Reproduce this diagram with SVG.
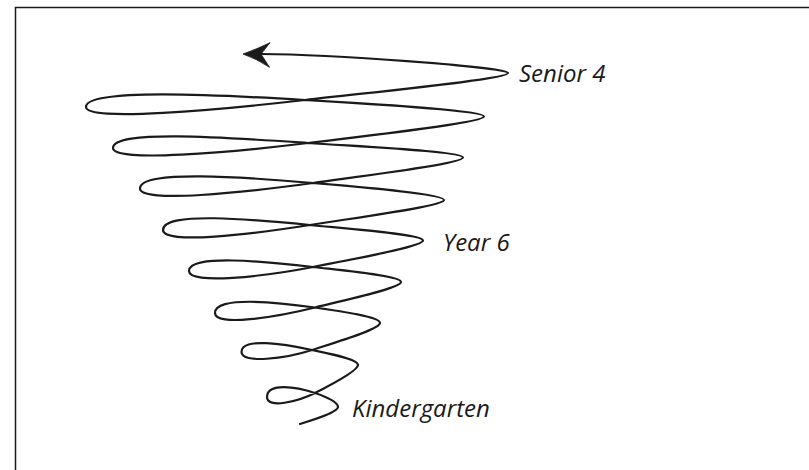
<svg xmlns="http://www.w3.org/2000/svg" width="809" height="470" viewBox="0 0 809 470">
  <style>
    .frame { fill: none; stroke: #1a1a1a; stroke-width: 1.5; }
    .coil { fill: none; stroke: #1a1a1a; stroke-width: 2.2; stroke-linecap: round; stroke-linejoin: round; }
    .head { fill: #1a1a1a; stroke: #1a1a1a; stroke-width: 0.8; stroke-linejoin: round; }
    .lbl { font-family: "Open Sans", "Liberation Sans", sans-serif; font-style: italic; font-size: 24px; fill: #1a1a1a; }
  </style>
  <rect width="809" height="470" fill="#ffffff"/>
  <rect id="frame" class="frame" x="15.5" y="7.5" width="820" height="480"/>
  <g id="spiral">
    <path class="coil" d="M300,424 C316,419 338,412 338,407
      C338,402 325.2,396.5 315,393 C296.7,386.8 267,382 267,397 C267,409 297.8,401.7 315,393 C333.3,383.7 358,370 358,365
      C358,359 331,354 312,350 C284.4,344.1 241.5,337 241.5,352 C241.5,364 285.2,358.7 312,350 C339.9,341 380,329 380,323
      C380,317 341.4,311.3 315,307.5 C275.3,301.8 215,296 215,313 C215,327 276.1,317.2 315,307.5 C349.8,298.8 401,288 401,282
      C401,276 348.5,271.1 313,267 C263.7,261.3 189,254 189,271 C189,285 264.3,276.5 313,267 C357.5,258.3 423,246.5 423,240.5
      C423,234.5 355.4,229.4 310,225 C251.5,219.4 163,211 163,230 C163,245 251.9,234.2 310,225 C363.8,216.5 444,206 444,200
      C444,194 365.6,187.5 313,183 C244.1,177 140,169.5 140,188.5 C140,203.5 244.5,192.6 313,183 C373.3,174.6 463,163.5 463,157.5
      C463,151.5 370.2,147.2 308,143 C230.2,137.7 113,129 113,148 C113,163 230.6,152.5 308,143 C378.7,134.3 484,122.5 484,116.5
      C484,110.5 376.8,104.3 305,100 C217.6,94.8 86,88 86,107 C86,122 218,110 305,100 C386.4,90.7 508,79 508,73
      C508,67 330,54.5 261,54"/>
    <path id="arrowhead" class="head" d="M243,54 Q257,49 270,42.7 L261,54 L269.5,67.3 Q257,59 243,54 Z"/>
  </g>
  <g id="labels">
    <text class="lbl" x="519" y="82">Senior 4</text>
    <text class="lbl" x="443" y="251">Year 6</text>
    <text class="lbl" x="352" y="417">Kindergarten</text>
  </g>
</svg>
